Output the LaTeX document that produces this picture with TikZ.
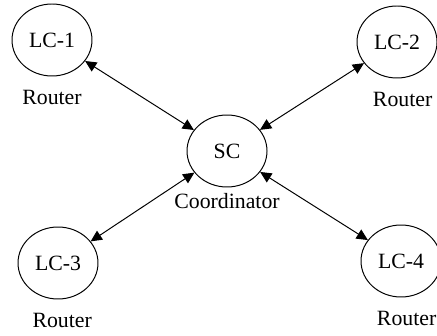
\documentclass[tikz,border=0pt]{standalone}
\usepackage{fontspec}
\setmainfont{Liberation Serif}
\usetikzlibrary{positioning,shapes.geometric,arrows.meta}

\tikzset{
	unit/.style={draw, ellipse, line width=0.7pt, minimum width=2cm, minimum height=1.8cm, inner sep=0pt, font=\fontsize{15.5}{18}\selectfont},
	role/.style={font=\fontsize{15.5}{18}\selectfont},
	link/.style={{Triangle[length=8pt,width=7.5pt]}-{Triangle[length=8pt,width=7.5pt]}, line width=0.7pt}
}

\begin{document}
\begin{tikzpicture}
	\useasboundingbox (0,0) rectangle (10.925,8.375);
	
	%controllers
	\node[unit] (lc1) at (1.30,7.375) 	{LC-1};
	\node[unit] (lc2) at (9.925,7.325) 	{LC-2};
	\node[unit] (sc)  at (5.675,4.60) 	{SC};
	\node[unit] (lc3) at (1.45,1.80) 	{LC-3};
	\node[unit] (lc4) at (10.025,1.85) 	{LC-4};
	
	%labels
	\node[role, below=6pt of lc1] (r1) 	{Router};
	\node[role, below=6pt of lc2, xshift=4pt] (r2) 	{Router};
	\node[role, below=1pt of sc] (co) 	{Coordinator};
	\node[role, below=6pt of lc3, xshift=3pt] (r3) 	{Router};
	\node[role, below=6pt of lc4, xshift=4pt] (r4) 	{Router};
	
	%links
	\draw[link]	(lc1)--(sc);
	\draw[link]	(lc2)--(sc);
	\draw[link]	(lc3)--(sc);
	\draw[link]	(lc4)--(sc);
\end{tikzpicture}
\end{document}
